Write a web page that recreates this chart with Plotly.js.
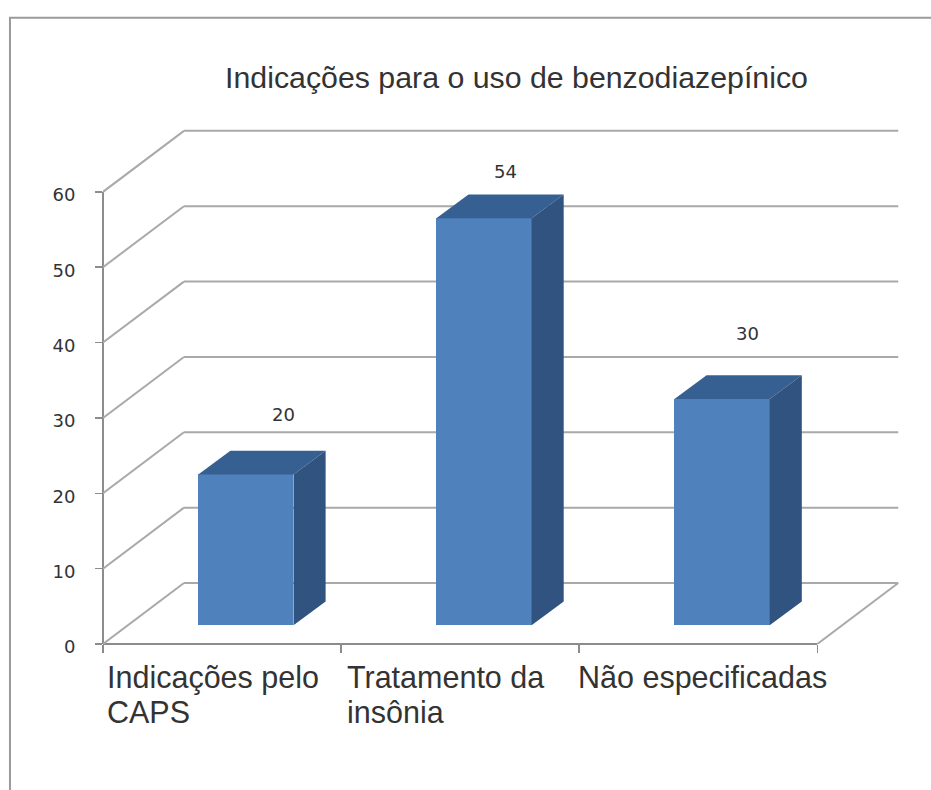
<!DOCTYPE html>
<html><head><meta charset="utf-8">
<script src="https://cdn.plot.ly/plotly-3.0.1.min.js"></script>
<style>html,body{margin:0;padding:0;background:#fff}</style></head>
<body><div id="chart" style="width:931px;height:790px"></div>
<script>
const categories = [["Indicações pelo", "CAPS"], ["Tratamento da", "insônia"], ["Não especificadas"]];
const values = [20, 54, 30];
const yTicks = [0, 10, 20, 30, 40, 50, 60];
const xTicks = [0, 1, 2, 3];
const chartTitle = "Indicações para o uso de benzodiazepínico";

// pseudo-3D geometry, in axis units
const wallDx = 0.34, wallDy = 8.09;      // depth of the floor
const barOffX = 0.1, barOffY = 2.5;      // bar's place on the floor
const barW = 0.4, barDx = 0.135, barDy = 3.15; // bar's width and depth
const labelShift = [[38, 36], [22, 23], [25, 42]]; // px from bar's back-top edge
const catShift = [3, 5, -2];  // px, left edge of category text from its tick

const pxX = 238, pxY = 7.533, plotLeft = 103, plotBottom = 644;
const xMax = 3.36, yMax = 69;
const plotW = xMax * pxX, plotH = yMax * pxY;
const plotTop = plotBottom - plotH;
const H = 790;
const paperX = px => (px - plotLeft) / plotW;
const paperY = py => (plotBottom - py) / plotH;

const gridColor = "#a9a9a9", axisColor = "#8c8c8c", textColor = "#333333";
const gl = {color: gridColor, width: 2};
const shapes = [];
yTicks.forEach(v => {
  shapes.push({type:"line", layer:"below", xref:"x", yref:"y", x0:0, y0:v, x1:wallDx, y1:v+wallDy, line:gl});
  shapes.push({type:"line", layer:"below", xref:"x", yref:"y", x0:wallDx, y0:v+wallDy, x1:3+wallDx, y1:v+wallDy, line:gl});
});
shapes.push({type:"line", layer:"below", xref:"x", yref:"y", x0:3, y0:0, x1:3+wallDx, y1:wallDy, line:gl});
shapes.push({type:"line", layer:"below", xref:"paper", yref:"y", x0:0, x1:0, y0:0, y1:60, line:{color:axisColor, width:2}});
shapes.push({type:"line", layer:"below", xref:"x", yref:"paper", x0:0, x1:3, y0:0, y1:0, line:{color:axisColor, width:2}});
// outer frame: only its left and top edges fall inside the picture
shapes.push({type:"rect", layer:"below", xref:"paper", yref:"paper",
  x0:paperX(10), x1:paperX(960), y0:paperY(830), y1:paperY(18),
  line:{color:"#9a9a9a", width:2}, fillcolor:"rgba(0,0,0,0)"});

const centers = values.map((_, i) => i + 0.5 + barOffX);
const traces = [{
  type:"bar", x:centers, y:values, base:values.map(() => barOffY), width:barW,
  marker:{color:"#4f81bd", line:{width:0}}, hoverinfo:"skip", showlegend:false
}];
values.forEach((v, i) => {
  const x0 = centers[i] - barW/2, x1 = centers[i] + barW/2, yT = v + barOffY, yB = barOffY;
  traces.push({type:"scatter", mode:"lines", fill:"toself", fillcolor:"#376092", line:{width:0, color:"#376092"},
    x:[x0, x0+barDx, x1+barDx, x1, x0], y:[yT, yT+barDy, yT+barDy, yT, yT], hoverinfo:"skip", showlegend:false});
  traces.push({type:"scatter", mode:"lines", fill:"toself", fillcolor:"#30537f", line:{width:0, color:"#30537f"},
    x:[x1, x1+barDx, x1+barDx, x1, x1], y:[yB, yB+barDy, yT+barDy, yT, yB], hoverinfo:"skip", showlegend:false});
});

const annotations = [];
values.forEach((v, i) => annotations.push({
  xref:"x", yref:"y", x:centers[i], y:v+barOffY+barDy, text:String(v), showarrow:false,
  xanchor:"center", yanchor:"middle", xshift:labelShift[i][0], yshift:labelShift[i][1],
  font:{family:"DejaVu Sans, sans-serif", size:18, color:textColor}
}));
categories.forEach((lines, i) => lines.forEach((line, k) => annotations.push({
  xref:"x", yref:"paper", x:i, y:paperY(677 + 35 * k), text:line, showarrow:false, align:"left",
  xanchor:"left", yanchor:"middle", xshift:catShift[i], borderpad:0,
  font:{family:"Liberation Sans, Arial, sans-serif", size:30.5, color:textColor}
})));

Plotly.newPlot("chart", traces, {
  width:931, height:790, paper_bgcolor:"#fff", plot_bgcolor:"rgba(0,0,0,0)", showlegend:false,
  margin:{l:plotLeft, r:931-plotLeft-plotW, t:plotTop, b:H-plotBottom, pad:0},
  title:{text:chartTitle, x:(225+808)/2/931, xanchor:"center", y:1-77/H, yanchor:"middle",
    font:{family:"Liberation Sans, Arial, sans-serif", size:30.3, color:textColor}},
  xaxis:{range:[0,xMax], tickmode:"array", tickvals:xTicks, showticklabels:false, showgrid:false, zeroline:false,
    showline:false, ticks:"outside", ticklen:8, tickwidth:1.5, tickcolor:axisColor, fixedrange:true},
  yaxis:{range:[0,yMax], tickmode:"array", tickvals:yTicks, showgrid:false, zeroline:false, showline:false,
    ticks:"outside", ticklen:7, tickwidth:1.5, tickcolor:axisColor, ticklabelstandoff:16, ticklabelshift:3,
    tickfont:{family:"DejaVu Sans, sans-serif", size:18, color:textColor}, fixedrange:true},
  shapes, annotations, bargap:0
}, {staticPlot:true, displayModeBar:false});
</script></body></html>
